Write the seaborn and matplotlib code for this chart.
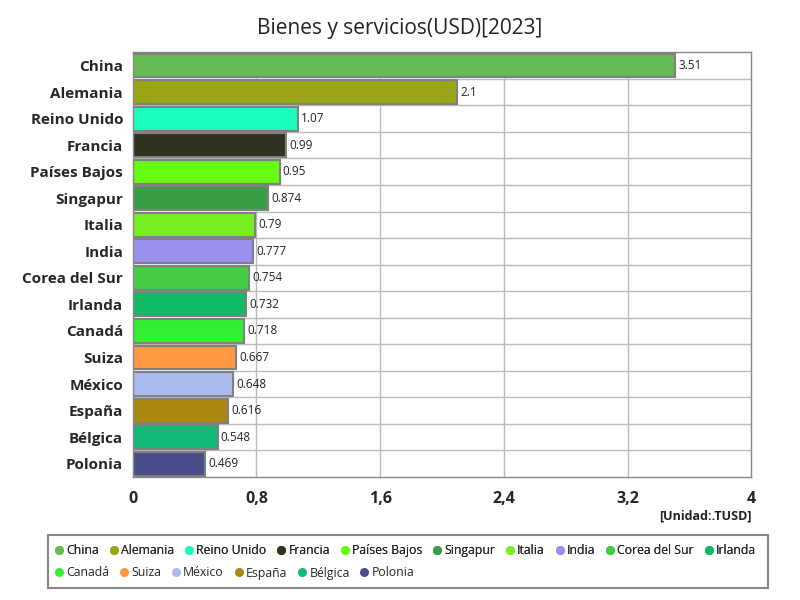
import matplotlib
matplotlib.use("Agg")
import matplotlib.pyplot as plt
import seaborn as sns
import pandas as pd
from matplotlib.lines import Line2D
from matplotlib.patches import Rectangle

countries = ["China", "Alemania", "Reino Unido", "Francia", "Países Bajos", "Singapur",
             "Italia", "India", "Corea del Sur", "Irlanda", "Canadá", "Suiza", "México",
             "España", "Bélgica", "Polonia"]
values = [3.51, 2.1, 1.07, 0.99, 0.95, 0.874, 0.79, 0.777, 0.754, 0.732, 0.718,
          0.667, 0.648, 0.616, 0.548, 0.469]
labels = ["3.51", "2.1", "1.07", "0.99", "0.95", "0.874", "0.79", "0.777", "0.754",
          "0.732", "0.718", "0.667", "0.648", "0.616", "0.548", "0.469"]
colors = ["#66bb55", "#99a514", "#1affc0", "#2f331f", "#66ff11", "#3a9e48", "#77ee22",
          "#9a90ee", "#44cc44", "#11bb66", "#33ee33", "#ff9944", "#aabbee", "#aa8811",
          "#11bb77", "#4a4e8a"]
xticks = [0, 0.8, 1.6, 2.4, 3.2, 4]
xtick_labels = ["0", "0,8", "1,6", "2,4", "3,2", "4"]

df = pd.DataFrame({"country": countries, "value": values})
palette = dict(zip(countries, colors))

sns.set_style("white")
plt.rcParams['font.family'] = ['Open Sans', 'DejaVu Sans']

fig = plt.figure(figsize=(8, 6), dpi=100)
ax = fig.add_axes([0.166, 0.205, 0.773, 0.708])

sns.barplot(data=df, y="country", x="value", hue="country", palette=palette,
            dodge=False, legend=False, ax=ax, width=0.9,
            edgecolor="#808080", linewidth=1.5, saturation=1)

ax.set_xlim(0, 4)
ax.set_ylim(len(countries) - 0.5, -0.5)
ax.set_xticks(xticks)
ax.set_xticklabels(xtick_labels, fontsize=11.5, fontweight="bold")
ax.tick_params(axis="x", length=0, pad=10)
ax.tick_params(axis="y", length=0, pad=7)
for t in ax.get_yticklabels():
    t.set_fontsize(11)
    t.set_fontweight("bold")
ax.set_xlabel("")
ax.set_ylabel("")

for x in xticks[1:-1]:
    ax.axvline(x, color="#bbbbbb", lw=1, zorder=0)
for i in range(len(countries) - 1):
    ax.axhline(i + 0.5, color="#bbbbbb", lw=1, zorder=0)
for s in ax.spines.values():
    s.set_color("#888888")
    s.set_linewidth(1)

for i, (v, lab) in enumerate(zip(values, labels)):
    ax.text(v + 0.02, i, lab, va="center", ha="left", fontsize=8.5, color="#222222")

fig.text(0.5, 0.953, "Bienes y servicios(USD)[2023]", ha="center", va="center",
         fontsize=15, color="#222222")
fig.text(0.939, 0.14, "[Unidad:.TUSD]", ha="right", va="center", fontsize=9,
         fontweight="bold", color="#222222")

# legend frame
fig.patches.append(Rectangle((0.06, 0.02), 0.9, 0.088, transform=fig.transFigure,
                             fill=False, edgecolor="#888888", linewidth=1.5))

def make_handles(names, cols):
    return [Line2D([0], [0], marker="o", color="w", markerfacecolor=c, markersize=6.5,
                   markeredgewidth=0, label=n) for n, c in zip(names, cols)]

leg_kw = dict(frameon=False, fontsize=8.8, handletextpad=0.1, columnspacing=0.7,
              handlelength=1.0, borderpad=0.0, borderaxespad=0.0, loc="center left")
leg1 = fig.legend(handles=make_handles(countries[:10], colors[:10]), ncol=10,
                  bbox_to_anchor=(0.066, 0.082), **leg_kw)
fig.add_artist(leg1)
leg2 = fig.legend(handles=make_handles(countries[10:], colors[10:]), ncol=6,
                  bbox_to_anchor=(0.066, 0.045), **leg_kw)

fig.savefig("out.png", dpi=100)
